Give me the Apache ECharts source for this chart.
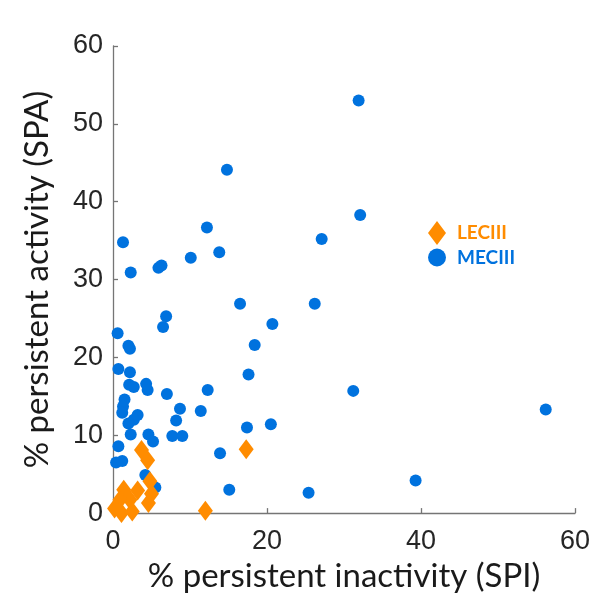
<!DOCTYPE html>
<html>
<head>
<meta charset="utf-8">
<script src="https://cdn.jsdelivr.net/npm/echarts@6/dist/echarts.min.js"></script>
<style>
html,body{margin:0;padding:0;background:#fff;}
#chart{width:605px;height:598px;}
</style>
</head>
<body>
<div id="chart"></div>
<script>
// MECIII points: % persistent inactivity (SPI) vs % persistent activity (SPA)
var mecX = [31.9,14.8,32.1,12.2,1.3,27.1,13.8,10.1,6.3,5.9,2.3,16.5,26.2,6.9,6.5,0.6,20.7,2.0,2.2,18.4,0.7,2.2,2.1,2.7,4.3,4.5,17.6,7.0,12.3,31.2,56.2,1.5,1.3,1.2,3.2,8.7,11.4,2.7,2.0,8.2,2.3,4.6,5.2,7.7,9.0,17.4,20.5,0.7,0.4,1.2,13.9,4.2,5.5,15.1,25.4,39.3];
var mecY = [53.0,44.1,38.3,36.7,34.8,35.2,33.5,32.8,31.8,31.5,30.9,26.9,26.9,25.3,23.9,23.1,24.3,21.5,21.1,21.6,18.5,18.1,16.5,16.2,16.6,15.8,17.8,15.3,15.8,15.7,13.3,14.6,13.7,12.9,12.6,13.4,13.1,12.0,11.5,11.9,10.1,10.1,9.2,9.9,9.9,11.0,11.4,8.6,6.5,6.7,7.7,4.9,3.3,3.0,2.6,4.2];
// LECIII points
var lecX = [3.7,4.5,17.3,4.8,1.4,3.2,5.0,2.2,0.9,4.6,0.2,1.1,2.5,12.0];
var lecY = [8.1,6.8,8.2,4.1,3.0,2.9,2.5,1.7,1.7,1.3,0.6,0.0,0.2,0.3];
var xTicks = [0,20,40,60];
var yTicks = [0,10,20,30,40,50,60];
var seriesNames = ['LECIII','MECIII'];
var xTitle = '% persistent inactivity (SPI)';
var yTitle = '% persistent activity (SPA)';

var BLUE = '#0072DE', ORANGE = '#FF8C00';
function pairs(xs, ys){ return xs.map(function(v,i){ return [v, ys[i]]; }); }

var chart = echarts.init(document.getElementById('chart'), null, {renderer:'canvas'});
var axisCommon = {
  axisLine:{show:true, lineStyle:{color:'#757575', width:1.3}},
  axisTick:{show:true, inside:true, length:5, lineStyle:{color:'#757575', width:1.3}},
  splitLine:{show:false},
  axisLabel:{color:'#262626', fontFamily:'Liberation Sans', fontSize:27},
  nameTextStyle:{color:'#1a1a1a', fontFamily:'Lato', fontSize:33}
};
chart.setOption({
  animation:false,
  backgroundColor:'#fff',
  grid:{left:113, right:30, top:46, bottom:82, containLabel:false},
  xAxis: Object.assign({}, axisCommon, {
    type:'value', min:xTicks[0], max:xTicks[xTicks.length-1], interval:20,
    name:xTitle, nameLocation:'middle', nameGap:44,
    axisLabel:Object.assign({}, axisCommon.axisLabel, {margin:15})
  }),
  yAxis: Object.assign({}, axisCommon, {
    type:'value', min:yTicks[0], max:yTicks[yTicks.length-1], interval:10,
    name:yTitle, nameLocation:'middle', nameGap:59, nameRotate:90,
    axisLabel:Object.assign({}, axisCommon.axisLabel, {margin:10})
  }),
  legend:{
    orient:'vertical', left:428, top:221, padding:0, itemGap:3, itemWidth:18, itemHeight:24,
    textStyle:{fontFamily:'Lato', fontWeight:'bold', fontSize:19, padding:[0,0,0,6]},
    data:[
      {name:seriesNames[0], icon:'diamond', textStyle:{color:ORANGE}},
      {name:seriesNames[1], icon:'circle', textStyle:{color:BLUE}}
    ]
  },
  series:[
    {name:seriesNames[1], type:'scatter', clip:false, symbol:'circle', symbolSize:12,
     itemStyle:{color:BLUE, opacity:1}, data:pairs(mecX, mecY), z:2},
    {name:seriesNames[0], type:'scatter', clip:false, symbol:'diamond', symbolSize:[15,20],
     itemStyle:{color:ORANGE, opacity:1}, data:pairs(lecX, lecY), z:3}
  ]
});
</script>
</body>
</html>
